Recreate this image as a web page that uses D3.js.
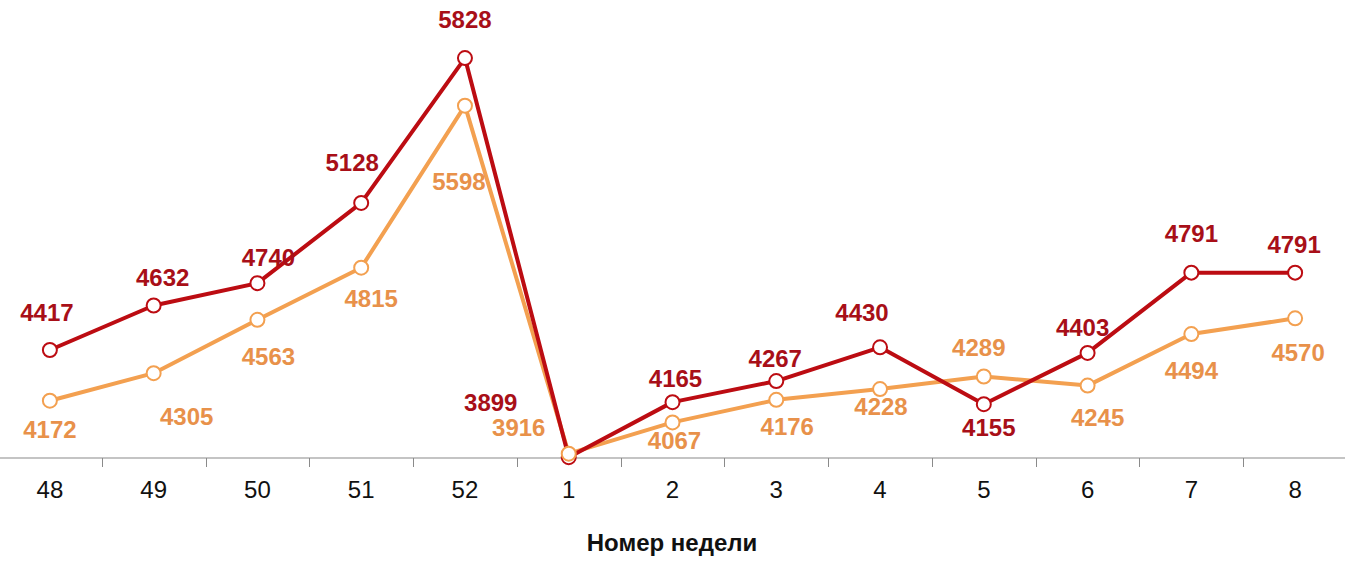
<!DOCTYPE html>
<html>
<head>
<meta charset="utf-8">
<script src="https://cdn.jsdelivr.net/npm/d3@7"></script>
<style>
  body { margin: 0; background: #fff; }
  svg { display: block; font-family: "Liberation Sans", Arial, sans-serif; }
</style>
</head>
<body>
<svg id="chart" width="1345" height="566"></svg>
<script>
const weeks = ["48", "49", "50", "51", "52", "1", "2", "3", "4", "5", "6", "7", "8"];
const redValues = [4417, 4632, 4740, 5128, 5828, 3899, 4165, 4267, 4430, 4155, 4403, 4791, 4791];
const orangeValues = [4172, 4305, 4563, 4815, 5598, 3916, 4067, 4176, 4228, 4289, 4245, 4494, 4570];
const axisTitle = "Номер недели";

const width = 1345, height = 566;
const redColor = "#bc0c12", redText = "#a80f18";
const orangeColor = "#f3a050", orangeText = "#e8914a";

// where each value label sits relative to its point: [dx, dy] to the label centre
const redLabelPos = [[-3,-37],[9,-28],[11,-26],[-9,-40],[0,-38],[-78,-55],[3,-24],[-1,-22],[-18,-35],[5,23],[-5,-25],[0,-39],[-1,-28]];
const orangeLabelPos = [[0,29],[33,43],[11,37],[10,31],[-6,76],[-50,-26],[2,18],[11,27],[1,17],[-5,-29],[10,32],[0,37],[3,34]];

const svg = d3.select("#chart");

const x = d3.scaleBand()
  .domain(weeks)
  .range([-2, 1347])
  .padding(0);

const y = d3.scaleLinear()
  .domain([3895, 6000])
  .range([458, 22.5]);

const cx = d => x(d) + x.bandwidth() / 2;
const axisY = y(3895);

// axis line
svg.append("line")
  .attr("x1", 0).attr("x2", width)
  .attr("y1", axisY).attr("y2", axisY)
  .attr("stroke", "#8a8a8a")
  .attr("stroke-width", 1.2);

// ticks between categories
svg.append("g")
  .selectAll("line")
  .data(weeks.slice(1))
  .join("line")
    .attr("x1", d => Math.round(x(d)) + 0.5)
    .attr("x2", d => Math.round(x(d)) + 0.5)
    .attr("y1", axisY)
    .attr("y2", axisY + 9)
    .attr("stroke", "#8a8a8a");

svg.append("g")
  .selectAll("text")
  .data(weeks)
  .join("text")
    .attr("x", d => cx(d))
    .attr("y", 490)
    .attr("dy", "0.35em")
    .attr("text-anchor", "middle")
    .attr("font-size", 24)
    .attr("fill", "#111")
    .text(d => d);

svg.append("text")
  .attr("x", 672)
  .attr("y", 543)
  .attr("dy", "0.35em")
  .attr("text-anchor", "middle")
  .attr("font-size", 24)
  .attr("font-weight", "bold")
  .attr("fill", "#111")
  .text(axisTitle);

function drawSeries(values, color) {
  const pts = values.map((v, i) => ({week: weeks[i], v, i}));

  const line = d3.line()
    .x(d => cx(d.week))
    .y(d => y(d.v));

  svg.append("path")
    .datum(pts)
    .attr("fill", "none")
    .attr("stroke", color)
    .attr("stroke-width", 4)
    .attr("stroke-linejoin", "round")
    .attr("d", line);

  return pts;
}

function drawPoints(pts, color) {
  svg.append("g")
    .selectAll("circle")
    .data(pts)
    .join("circle")
      .attr("cx", d => cx(d.week))
      .attr("cy", d => y(d.v))
      .attr("r", 7)
      .attr("fill", "#fff")
      .attr("stroke", color)
      .attr("stroke-width", 2);
}

function drawLabels(pts, textColor, pos) {
  svg.append("g")
    .selectAll("text")
    .data(pts)
    .join("text")
      .attr("font-size", 24)
      .attr("font-weight", "bold")
      .attr("fill", textColor)
      .attr("text-anchor", "middle")
      .attr("x", d => cx(d.week) + pos[d.i][0])
      .attr("y", d => y(d.v) + pos[d.i][1])
      .attr("dy", "0.35em")
      .text(d => d.v);
}

const orangePts = drawSeries(orangeValues, orangeColor);
const redPts = drawSeries(redValues, redColor);
drawPoints(redPts, redColor);
drawPoints(orangePts, orangeColor);
drawLabels(redPts, redText, redLabelPos);
drawLabels(orangePts, orangeText, orangeLabelPos);
</script>
</body>
</html>
